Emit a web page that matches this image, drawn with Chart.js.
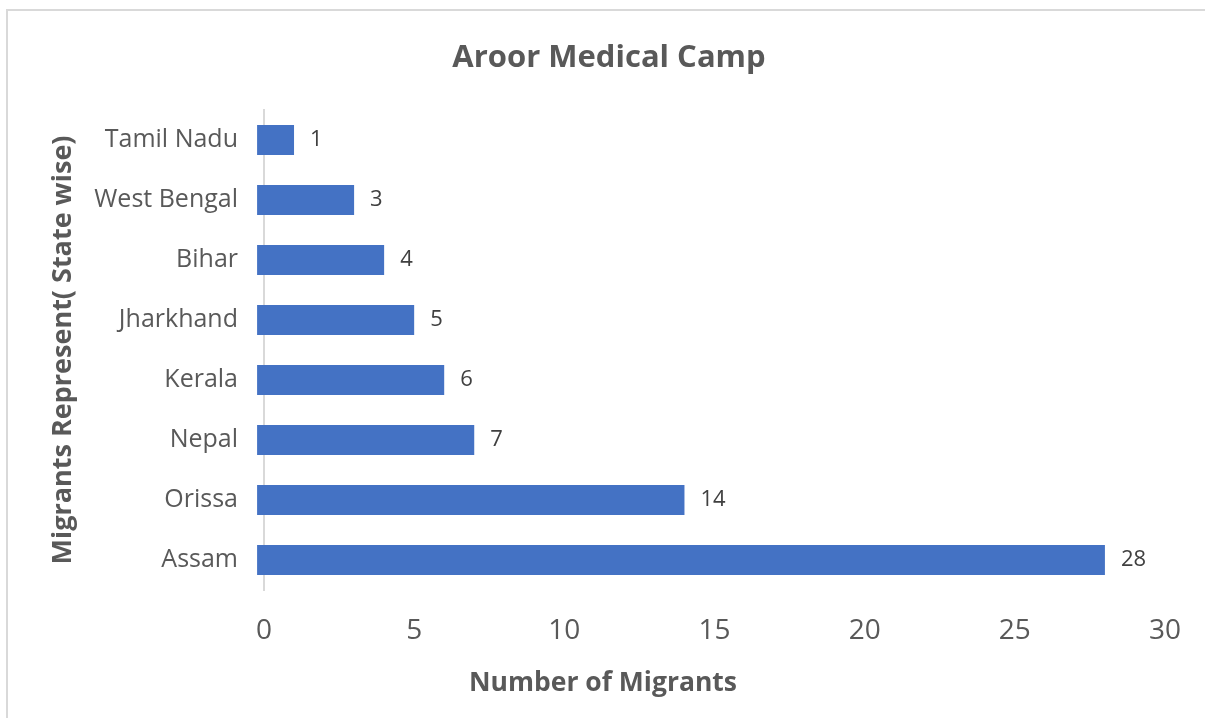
<!DOCTYPE html>
<html>
<head>
<meta charset="utf-8">
<title>Aroor Medical Camp</title>
<script src="https://cdn.jsdelivr.net/npm/chart.js@4.4.1/dist/chart.umd.min.js"></script>
<style>
  html, body { margin: 0; padding: 0; background: #ffffff; }
  #frame {
    position: absolute; left: 6px; top: 9px; width: 1400px; height: 900px;
    border-top: 2px solid #d9d9d9; border-left: 2px solid #d9d9d9;
  }
  #chart { position: absolute; left: 0; top: 0; }
</style>
</head>
<body>
<div id="frame"></div>
<canvas id="chart" width="1205" height="718"></canvas>
<script>
// data, top to bottom as in the picture
const states = ['Tamil Nadu', 'West Bengal', 'Bihar', 'Jharkhand', 'Kerala', 'Nepal', 'Orissa', 'Assam'];
const migrants = [1, 3, 4, 5, 6, 7, 14, 28];
const xTicks = [0, 5, 10, 15, 20, 25, 30];

const chartTitle = 'Aroor Medical Camp';
const xTitle = 'Number of Migrants';
const yTitle = 'Migrants Represent( State wise)';

const textGrey = '#595959';
const barBlue = '#4472C4';

// value labels at the end of each bar
const valueLabels = {
    id: 'valueLabels',
    afterDatasetsDraw(chart) {
        const ctx = chart.ctx;
        const meta = chart.getDatasetMeta(0);
        ctx.save();
        ctx.font = '22px "Open Sans"';
        ctx.fillStyle = '#404040';
        ctx.textAlign = 'left';
        ctx.textBaseline = 'middle';
        meta.data.forEach(function (bar, i) {
            ctx.fillText(String(migrants[i]), bar.x + 16, bar.y);
        });
        ctx.restore();
    }
};

// chart title and x axis title sit off-centre from the plot area in the original
const titles = {
    id: 'titles',
    afterDraw(chart) {
        const ctx = chart.ctx;
        ctx.save();
        ctx.fillStyle = textGrey;
        ctx.textAlign = 'center';
        ctx.textBaseline = 'middle';
        ctx.font = 'bold 31px "Open Sans"';
        ctx.fillText(chartTitle, 609, 58);
        ctx.font = 'bold 26.5px "Open Sans"';
        ctx.fillText(xTitle, 603, 683);
        ctx.restore();
    }
};

const ctx = document.getElementById('chart').getContext('2d');
new Chart(ctx, {
    type: 'bar',
    data: {
        labels: states,
        datasets: [{
            data: migrants,
            backgroundColor: barBlue,
            borderWidth: 0,
            barPercentage: 0.5,
            categoryPercentage: 1.0,
            base: -0.23,
            clip: false
        }]
    },
    options: {
        indexAxis: 'y',
        responsive: false,
        animation: false,
        layout: { padding: { left: 0, right: 35, top: 110, bottom: 0 } },
        plugins: {
            legend: { display: false },
            tooltip: { enabled: false },
            title: { display: false }
        },
        scales: {
            x: {
                min: 0,
                max: 30,
                afterBuildTicks(scale) {
                    scale.ticks = xTicks.map(v => ({ value: v }));
                },
                afterFit(scale) { scale.height = 128; },
                grid: { display: false, drawTicks: false },
                border: { display: false },
                ticks: {
                    color: textGrey,
                    padding: 24,
                    font: { family: 'Open Sans', size: 28 }
                },
                title: { display: false }
            },
            y: {
                afterFit(scale) { scale.width = 264; },
                grid: { display: false, drawTicks: false },
                border: { display: true, color: '#d9d9d9', width: 2 },
                ticks: {
                    color: textGrey,
                    padding: 26,
                    font: { family: 'Open Sans', size: 25 }
                },
                title: {
                    display: true,
                    text: yTitle,
                    color: textGrey,
                    font: { family: 'Open Sans', size: 27, weight: 'bold' },
                    padding: { top: 47, bottom: 0 }
                }
            }
        }
    },
    plugins: [valueLabels, titles]
});
</script>
</body>
</html>
